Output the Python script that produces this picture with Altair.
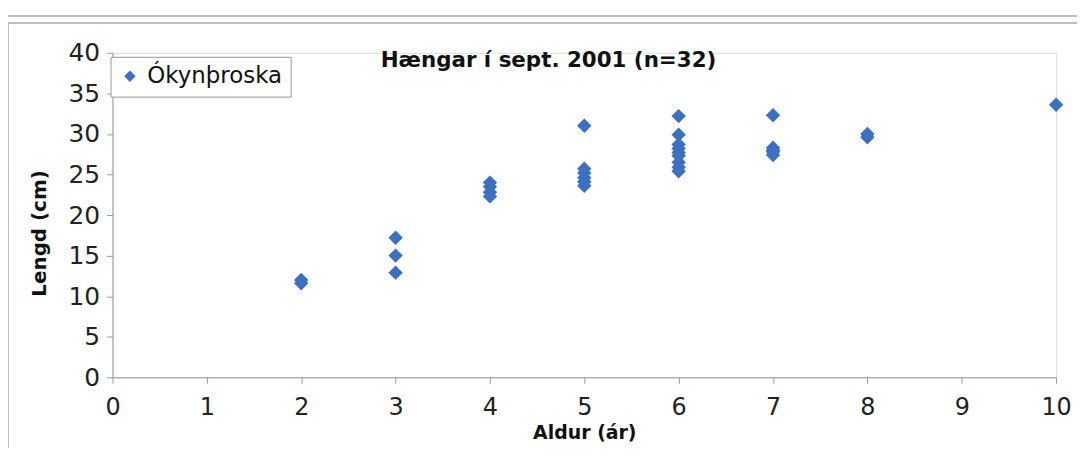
import altair as alt
import pandas as pd

# Data
ages = [2, 2,
        3, 3, 3,
        4, 4, 4, 4,
        5, 5, 5, 5, 5, 5,
        6, 6, 6, 6, 6, 6, 6, 6, 6,
        7, 7, 7, 7, 7,
        8, 8,
        10]
lengths = [12.0, 11.6,
           17.2, 15.0, 12.9,
           24.0, 23.5, 22.8, 22.3,
           31.0, 25.7, 25.2, 24.6, 24.1, 23.6,
           32.2, 29.9, 28.7, 28.2, 27.7, 27.3, 26.5, 25.9, 25.4,
           32.3, 28.3, 28.0, 27.8, 27.4,
           30.0, 29.6,
           33.6]
series_name = "Ókynþroska"
x_ticks = list(range(0, 11))
y_ticks = list(range(0, 41, 5))
chart_title = "Hængar í sept. 2001 (n=32)"
x_title = "Aldur (ár)"
y_title = "Lengd (cm)"

FONT = "DejaVu Sans"
BLUE = "#3C70C0"
W, H = 948, 326

df = pd.DataFrame({"Aldur": ages, "Lengd": lengths, "Flokkur": [series_name] * len(ages)})

points = alt.Chart(df).mark_point(
    shape="diamond", filled=True, size=210, opacity=1
).encode(
    x=alt.X("Aldur:Q",
            scale=alt.Scale(domain=[0, 10], nice=False, zero=True),
            axis=alt.Axis(values=x_ticks, title=x_title, grid=False,
                          labelFontSize=24, labelFont=FONT, labelColor="#222",
                          labelPadding=12, tickSize=6, tickColor="#999",
                          labelFlush=False, labelOverlap=False,
                          domainColor="#999", format="d",
                          titleFont=FONT, titleFontSize=19, titleFontWeight="bold",
                          titleColor="#111", titleY=55, titleBaseline="middle")),
    y=alt.Y("Lengd:Q",
            scale=alt.Scale(domain=[0, 40], nice=False, zero=True),
            axis=alt.Axis(values=y_ticks, title=y_title, grid=False,
                          labelFontSize=25, labelFont=FONT, labelColor="#222",
                          labelPadding=7, tickSize=6, tickColor="#999",
                          labelFlush=False, labelOverlap=False,
                          domainColor="#999", format="d",
                          titleFont=FONT, titleFontSize=20, titleFontWeight="bold",
                          titleColor="#111", titleX=-73, titleY=181,
                          titleAngle=-90, titleAlign="center", titleBaseline="middle")),
    color=alt.Color("Flokkur:N", scale=alt.Scale(range=[BLUE]),
                    legend=alt.Legend(title=None, orient="none", legendX=-2, legendY=4,
                                      labelFont=FONT, labelFontSize=23, labelColor="#111",
                                      symbolType="diamond", symbolSize=130,
                                      strokeColor="#999", fillColor="white",
                                      padding=8, labelOffset=6)),
)

frame_df = pd.DataFrame({"k": [0]})
frame = alt.Chart(frame_df).mark_rect(fillOpacity=0, stroke="#aaa", strokeWidth=1.5).encode(
    x=alt.value(-105), x2=alt.value(1100), y=alt.value(-30), y2=alt.value(403)
)
top_line = alt.Chart(frame_df).mark_rule(stroke="#aaa", strokeWidth=1.5).encode(
    x=alt.value(-105), x2=alt.value(1100), y=alt.value(-37)
)
title_mark = alt.Chart(frame_df).mark_text(
    text=chart_title, font=FONT, fontSize=21.5, fontWeight="bold", color="#111",
    align="center", baseline="alphabetic"
).encode(x=alt.value(438), y=alt.value(14))

chart = alt.layer(top_line, frame, points, title_mark).properties(
    width=W, height=H,
    autosize=alt.AutoSizeParams(type="none"),
    padding={"left": 105, "top": 44, "right": 21, "bottom": 70},
).configure_view(stroke=None).configure(background="white")

chart.save("out.html", embed_options={"renderer": "svg", "actions": False})
